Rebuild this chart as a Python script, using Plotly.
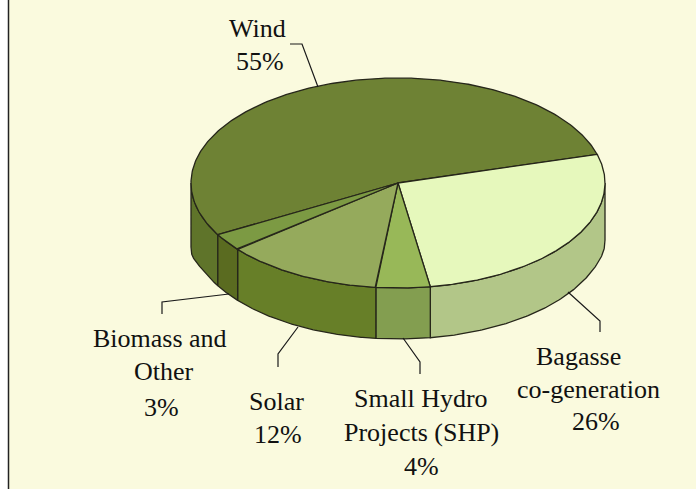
import numpy as np
import plotly.graph_objects as go

categories = ["Wind", "Bagasse co-generation", "Small Hydro Projects (SHP)", "Solar", "Biomass and Other"]
# slice sizes as drawn in the picture (the printed labels are rounded)
values = [53.8, 26.9, 4.2, 12.4, 2.7]
label_lines = [
    ["Wind", "55%"],
    ["Bagasse", "co-generation", "26%"],
    ["Small Hydro", "Projects (SHP)", "4%"],
    ["Solar", "12%"],
    ["Biomass and", "Other", "3%"],
]
top_colors = ["#6e8234", "#e6f8bc", "#98b858", "#95aa5c", "#7c9a43"]
side_colors = ["#5f742a", "#b2c688", "#839e50", "#677f28", "#5a6b20"]

CX, CY, RX, RY, DEPTH = 398, 183, 207, 105, 51
START = 240.5  # degrees clockwise from the top, where Wind begins
EDGE = "#26261a"

def pt(deg):
    r = np.radians(deg)
    return CX + RX * np.sin(r), CY - RY * np.cos(r)

def wall_depth(deg):
    # the wall runs a little deeper right at the silhouette ends of the ellipse
    s = np.sin(np.radians(deg))
    return DEPTH + np.where(s < 0, 13, 6) * np.abs(s) ** 40

fig = go.Figure()

def poly(x, y, color):
    fig.add_trace(go.Scatter(x=x, y=y, mode="lines", fill="toself", fillcolor=color,
                             line=dict(color=EDGE, width=1.3), hoverinfo="skip", showlegend=False))

fracs = np.array(values) / sum(values) * 360
starts = START + np.concatenate([[0], np.cumsum(fracs)[:-1]])

# side walls: only the part of each slice facing the viewer (90..270 degrees)
for a0, f, col in zip(starts, fracs, side_colors):
    for k in (-360, 0, 360):
        lo, hi = max(a0 + k, 90), min(a0 + f + k, 270)
        if lo < hi:
            t = np.linspace(lo, hi, 120)
            xs, ys = pt(t)
            bot = ys + wall_depth(t)
            poly(np.r_[xs, xs[::-1], xs[0]], np.r_[ys, bot[::-1], ys[0]], col)

# top faces
for a0, f, col in zip(starts, fracs, top_colors):
    t = np.linspace(a0, a0 + f, 240)
    xs, ys = pt(t)
    poly(np.r_[CX, xs, CX], np.r_[CY, ys, CY], col)

# leader lines
leaders = [
    ([290, 302, 318], [44, 44, 87]),
    ([600, 600, 568], [332, 321, 292]),
    ([420, 420, 403], [374, 362, 338]),
    ([278, 278, 298], [367, 354, 327]),
    ([162, 162, 229], [314, 302, 294]),
]
for lx, ly in leaders:
    fig.add_trace(go.Scatter(x=lx, y=ly, mode="lines", line=dict(color="#1a1a1a", width=1.2),
                             hoverinfo="skip", showlegend=False))

# centre of each text line
label_pos = [
    [(257, 28), (260, 61)],
    [(578, 356), (588, 389), (596, 421)],
    [(421, 398), (421, 432), (421, 466)],
    [(276, 401), (278, 434)],
    [(160, 338), (164, 371), (161, 407)],
]
for lines, spots in zip(label_lines, label_pos):
    for txt, (ax, ay) in zip(lines, spots):
        fig.add_annotation(x=ax, y=ay, text=txt, showarrow=False, xanchor="center", yanchor="middle",
                           font=dict(family="Liberation Serif", size=26, color="#111111"))

fig.update_layout(
    width=696, height=489, autosize=False,
    margin=dict(l=0, r=0, t=0, b=0),
    paper_bgcolor="white", plot_bgcolor="white",
    xaxis=dict(range=[0, 696], visible=False, fixedrange=True),
    yaxis=dict(range=[489, 0], visible=False, fixedrange=True),
    shapes=[dict(type="rect", layer="below", x0=8.5, x1=700, y0=-5, y1=495,
                 fillcolor="#fafade", line=dict(color="#222222", width=1.5))],
)
fig.write_html("out.html", config={"displayModeBar": False},
               post_script="document.body.style.margin='0';document.body.style.overflow='hidden';")
